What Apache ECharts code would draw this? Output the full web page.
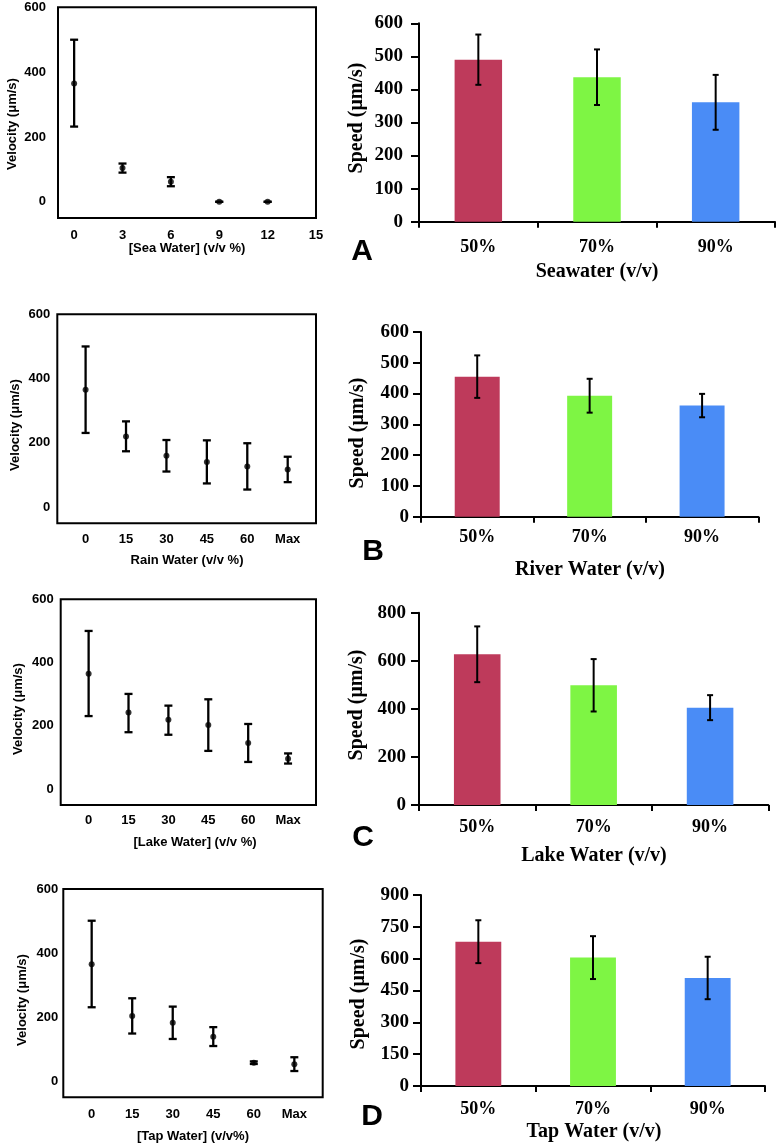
<!DOCTYPE html>
<html><head><meta charset="utf-8">
<script src="https://cdn.jsdelivr.net/npm/echarts@6/dist/echarts.min.js"></script>
<style>html,body{margin:0;padding:0;background:#fff}#c{width:780px;height:1146px}</style>
</head><body><div id="c"></div><script>
// ---- Left panels: velocity vs concentration ----
const seaX = [0, 3, 6, 9, 12];
const seaMean = [365, 104, 62, 0, 0];
const seaLow = [232, 90, 48, 0, 0];
const seaHigh = [500, 118, 76, 0, 0];
const seaTicks = [0, 3, 6, 9, 12, 15];

const concLabels = ['0', '15', '30', '45', '60', 'Max'];
const rainMean = [365, 220, 160, 141, 127, 117];
const rainLow = [231, 174, 111, 74, 55, 78];
const rainHigh = [500, 267, 209, 208, 199, 157];
const lakeMean = [365, 242, 219, 203, 146, 96];
const lakeLow = [231, 180, 172, 121, 86, 81];
const lakeHigh = [500, 301, 264, 284, 206, 113];
const tapMean = [365, 204, 183, 139, 58, 53];
const tapLow = [231, 149, 132, 110, 54, 32];
const tapHigh = [501, 259, 233, 169, 62, 75];
const velocityTicks = [0, 200, 400, 600];

// ---- Right panels: speed vs dilution ----
const pctCats = ['50%', '70%', '90%'];
const seawaterSpeed = [490, 437, 361];
const seawaterErr = [76, 84, 83];
const riverSpeed = [455, 393, 361];
const riverErr = [69, 55, 38];
const lakeSpeed = [627, 498, 405];
const lakeErr = [116, 109, 52];
const tapSpeed = [680, 605, 509];
const tapErr = [101, 101, 100];
const barColors = ['#BE3A5B', '#7EF544', '#4A8CF6'];

const SANS = '"Liberation Sans", Arial, sans-serif';
const SERIF = '"Liberation Serif", "Times New Roman", serif';

function errRender(capHalf, lw) {
  return function (params, api) {
    const x = api.value(0), lo = api.value(1), hi = api.value(2);
    const a = api.coord([x, lo]), b = api.coord([x, hi]);
    const st = { stroke: '#000', lineWidth: lw };
    return { type: 'group', children: [
      { type: 'line', shape: { x1: a[0], y1: a[1], x2: b[0], y2: b[1] }, style: st },
      { type: 'line', shape: { x1: a[0] - capHalf, y1: a[1], x2: a[0] + capHalf, y2: a[1] }, style: st },
      { type: 'line', shape: { x1: b[0] - capHalf, y1: b[1], x2: b[0] + capHalf, y2: b[1] }, style: st }
    ]};
  };
}

const grids = [], xAxes = [], yAxes = [], series = [];

const leftPanels = [
  { grid: { left: 58, top: 7.3, width: 258, height: 210.7 }, xs: seaX, mean: seaMean, low: seaLow, high: seaHigh,
    xMin: -1, xMax: 15, ticks: seaTicks, fmt: v => String(v), ym: 12, xm: 11 },
  { grid: { left: 57.3, top: 314.3, width: 258.7, height: 209 }, xs: null, mean: rainMean, low: rainLow, high: rainHigh,
    xMin: -0.7, xMax: 5.7, ticks: [0,1,2,3,4,5], fmt: v => concLabels[v], ym: 7, xm: 10 },
  { grid: { left: 60.7, top: 599.3, width: 255.3, height: 205.7 }, xs: null, mean: lakeMean, low: lakeLow, high: lakeHigh,
    xMin: -0.7, xMax: 5.7, ticks: [0,1,2,3,4,5], fmt: v => concLabels[v], ym: 7, xm: 9 },
  { grid: { left: 63.3, top: 889, width: 259.4, height: 208.3 }, xs: null, mean: tapMean, low: tapLow, high: tapHigh,
    xMin: -0.7, xMax: 5.7, ticks: [0,1,2,3,4,5], fmt: v => concLabels[v], ym: 5, xm: 11 }
];

leftPanels.forEach(p => {
  const gi = grids.length;
  grids.push(Object.assign({ show: true, borderColor: '#000', borderWidth: 2, backgroundColor: 'transparent' }, p.grid));
  xAxes.push({ type: 'value', gridIndex: gi, min: p.xMin, max: p.xMax, splitLine: { show: false },
    axisLine: { show: false }, axisTick: { show: false },
    axisLabel: { customValues: p.ticks, formatter: p.fmt, margin: p.xm, color: '#000', fontFamily: SANS, fontWeight: 'bold', fontSize: 13 } });
  yAxes.push({ type: 'value', gridIndex: gi, min: -50, max: 600, splitLine: { show: false },
    axisLine: { show: false }, axisTick: { show: false },
    axisLabel: { customValues: velocityTicks, margin: p.ym, color: '#000', fontFamily: SANS, fontWeight: 'bold', fontSize: 13 } });
  const xs = p.xs || p.mean.map((_, i) => i);
  series.push({ type: 'custom', xAxisIndex: gi, yAxisIndex: gi, renderItem: errRender(4, 2.3),
    encode: { x: 0, y: [1, 2] }, data: xs.map((x, i) => [x, p.low[i], p.high[i]]), z: 3 });
  series.push({ type: 'scatter', xAxisIndex: gi, yAxisIndex: gi, symbol: 'circle', symbolSize: 6,
    itemStyle: { color: '#000' }, data: xs.map((x, i) => [x, p.mean[i]]), z: 4 });
});

const rightPanels = [
  { grid: { left: 419, top: 23.3, width: 356, height: 198.4 }, vals: seawaterSpeed, err: seawaterErr, max: 600, interval: 100, lm: 17, ym: 16 },
  { grid: { left: 421, top: 332, width: 337.3, height: 184.7 }, vals: riverSpeed, err: riverErr, max: 600, interval: 100, lm: 12, ym: 12 },
  { grid: { left: 419, top: 612.7, width: 349.3, height: 192.3 }, vals: lakeSpeed, err: lakeErr, max: 800, interval: 200, lm: 13, ym: 13 },
  { grid: { left: 421, top: 895, width: 344, height: 191 }, vals: tapSpeed, err: tapErr, max: 900, interval: 150, lm: 14, ym: 12 }
];

rightPanels.forEach(p => {
  const gi = grids.length;
  grids.push(p.grid);
  xAxes.push({ type: 'category', gridIndex: gi, data: pctCats, boundaryGap: true,
    axisLine: { show: true, lineStyle: { color: '#000', width: 2 } },
    axisTick: { show: true, length: 6, lineStyle: { color: '#000', width: 2 } },
    axisLabel: { margin: p.lm, color: '#000', fontFamily: SERIF, fontWeight: 'bold', fontSize: 18 } });
  yAxes.push({ type: 'value', gridIndex: gi, min: 0, max: p.max, interval: p.interval, splitLine: { show: false },
    axisLine: { show: true, lineStyle: { color: '#000', width: 2 } },
    axisTick: { show: true, length: 8, lineStyle: { color: '#000', width: 2 } },
    axisLabel: { margin: p.ym, color: '#000', fontFamily: SERIF, fontWeight: 'bold', fontSize: 19 } });
  series.push({ type: 'bar', xAxisIndex: gi, yAxisIndex: gi, barWidth: '40%',
    data: p.vals.map((v, i) => ({ value: v, itemStyle: { color: barColors[i] } })), z: 2 });
  series.push({ type: 'custom', xAxisIndex: gi, yAxisIndex: gi, renderItem: errRender(3, 2),
    encode: { x: 0, y: [1, 2] }, data: p.vals.map((v, i) => [i, v - p.err[i], v + p.err[i]]), z: 3 });
});

function txt(x, y, text, font, rot) {
  return { type: 'text', x: x, y: y, rotation: rot ? Math.PI / 2 : 0,
    style: { text: text, font: font, fill: '#000', align: 'center', verticalAlign: 'middle' } };
}
const fL = 'bold 13px ' + SANS, fR = 'bold 20px ' + SERIF, fB = 'bold 30px ' + SANS;
const graphics = [
  txt(12, 124, 'Velocity (μm/s)', fL, true),
  txt(15, 425, 'Velocity (μm/s)', fL, true),
  txt(18, 709, 'Velocity (μm/s)', fL, true),
  txt(22, 1000, 'Velocity (μm/s)', fL, true),
  txt(187, 248, '[Sea Water] (v/v %)', fL),
  txt(187, 560, 'Rain Water (v/v %)', fL),
  txt(195, 842, '[Lake Water] (v/v %)', fL),
  txt(193, 1136, '[Tap Water] (v/v%)', fL),
  txt(357, 118, 'Speed (μm/s)', fR, true),
  txt(357.5, 433, 'Speed (μm/s)', fR, true),
  txt(357, 705, 'Speed (μm/s)', fR, true),
  txt(359, 994, 'Speed (μm/s)', fR, true),
  txt(597, 272, 'Seawater (v/v)', fR),
  txt(590, 570, 'River Water (v/v)', fR),
  txt(594, 856, 'Lake Water (v/v)', fR),
  txt(594, 1132, 'Tap Water (v/v)', fR),
  txt(362, 252, 'A', fB),
  txt(373, 552, 'B', fB),
  txt(363, 838, 'C', fB),
  txt(372, 1117, 'D', fB)
];

const chart = echarts.init(document.getElementById('c'), null, { renderer: 'canvas' });
chart.setOption({
  animation: false,
  backgroundColor: '#fff',
  grid: grids, xAxis: xAxes, yAxis: yAxes, series: series, graphic: graphics
});
</script></body></html>
